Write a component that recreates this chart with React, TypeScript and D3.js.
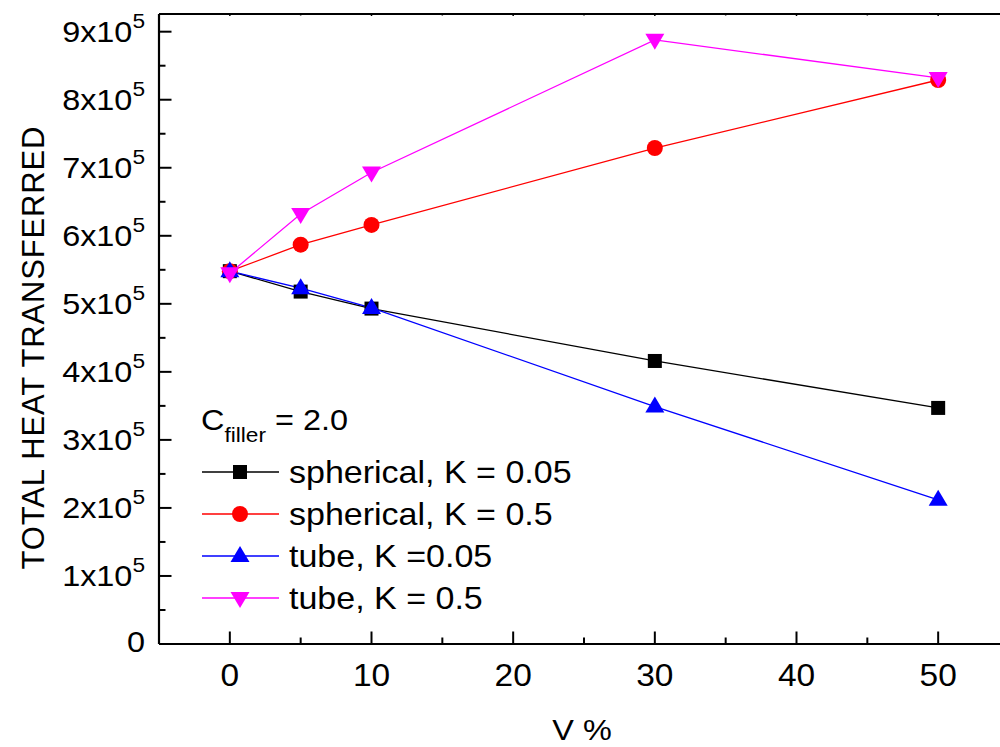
import React from "react";
import * as d3 from "d3";

const xValues = [0, 5, 10, 30, 50];
const sphericalK005 = [5.48e5, 5.18e5, 4.93e5, 4.16e5, 3.47e5];
const sphericalK05 = [5.48e5, 5.87e5, 6.16e5, 7.29e5, 8.29e5];
const tubeK005 = [5.48e5, 5.23e5, 4.94e5, 3.49e5, 2.12e5];
const tubeK05 = [5.45e5, 6.32e5, 6.93e5, 8.88e5, 8.32e5];
const seriesNames = ["spherical, K = 0.05", "spherical, K = 0.5", "tube, K =0.05", "tube, K = 0.5"];
const seriesColors = ["#000000", "#ff0000", "#0000ff", "#ff00ff"];
const seriesShapes = ["square", "circle", "triangle", "triangleDown"];
const xTicks = [0, 10, 20, 30, 40, 50];
const xMinorTicks = [-5, 5, 15, 25, 35, 45, 55];
const yTicks = [0, 1e5, 2e5, 3e5, 4e5, 5e5, 6e5, 7e5, 8e5, 9e5];
const yMinorTicks = [0.5e5, 1.5e5, 2.5e5, 3.5e5, 4.5e5, 5.5e5, 6.5e5, 7.5e5, 8.5e5];

const W = 1000;
const H = 747;
const left = 159;
const right = 1009;
const top = 14;
const bottom = 644;
const FONT = "Liberation Sans, Arial, sans-serif";
const SX = 1.08;

function Marker({ shape, x, y, color }: { shape: string; x: number; y: number; color: string }) {
  if (shape === "square") return <rect x={x - 7} y={y - 7} width={14} height={14} fill={color} />;
  if (shape === "circle") return <circle cx={x} cy={y} r={8} fill={color} />;
  if (shape === "triangle")
    return <path d={`M${x},${y - 10} L${x + 9.5},${y + 6} L${x - 9.5},${y + 6} Z`} fill={color} />;
  return <path d={`M${x},${y + 10} L${x + 9.5},${y - 6} L${x - 9.5},${y - 6} Z`} fill={color} />;
}

export default function App() {
  const x = d3.scaleLinear().domain([-5, 55]).range([left, right]);
  const y = d3.scaleLinear().domain([0, 9.26e5]).range([bottom, top]);
  const all = [sphericalK005, sphericalK05, tubeK005, tubeK05];
  const line = d3
    .line<number>()
    .x((_, i) => x(xValues[i]))
    .y((d) => y(d));

  const legendY0 = 472;
  const legendStep = 42;

  return (
    <svg width={W} height={H} style={{ position: "absolute", left: 0, top: 0 }} fontFamily={FONT}>
      <rect x={0} y={0} width={W} height={H} fill="#fff" />
      {all.map((s, si) => (
        <path key={si} d={line(s) || ""} fill="none" stroke={seriesColors[si]} strokeWidth={1.3} />
      ))}
      {all.map((s, si) => (
        <g key={"m" + si}>
          {s.map((v, i) => (
            <Marker key={i} shape={seriesShapes[si]} x={x(xValues[i])} y={y(v)} color={seriesColors[si]} />
          ))}
        </g>
      ))}
      <line x1={left} x2={right} y1={bottom} y2={bottom} stroke="#000" strokeWidth={2.2} />
      <line x1={left} x2={right} y1={top} y2={top} stroke="#000" strokeWidth={2.2} />
      <line x1={left} x2={left} y1={top} y2={bottom} stroke="#000" strokeWidth={2.2} />
      {xTicks.map((t) => (
        <g key={"xt" + t}>
          <line x1={x(t)} x2={x(t)} y1={bottom} y2={bottom - 12.5} stroke="#000" strokeWidth={2} />
          <line x1={x(t)} x2={x(t)} y1={top} y2={top + 2} stroke="#000" strokeWidth={1.5} />
          <text transform={`translate(${x(t)},686) scale(${SX},1)`} fontSize={31} textAnchor="middle">
            {t}
          </text>
        </g>
      ))}
      {xMinorTicks.map((t) => (
        <g key={"xm" + t}>
          <line x1={x(t)} x2={x(t)} y1={bottom} y2={bottom - 6.5} stroke="#000" strokeWidth={2} />
          <line x1={x(t)} x2={x(t)} y1={top} y2={top + 1.5} stroke="#000" strokeWidth={1.5} />
        </g>
      ))}
      {yTicks.map((t) => (
        <g key={"yt" + t}>
          <line x1={left} x2={left + 12.5} y1={y(t)} y2={y(t)} stroke="#000" strokeWidth={2} />
          {t === 0 ? (
            <text transform={`translate(145,${y(t) + 8}) scale(${SX},1)`} fontSize={30} textAnchor="end">
              0
            </text>
          ) : (
            <text transform={`translate(145,${y(t) + 10}) scale(${SX},1)`} fontSize={30} textAnchor="end">
              {`${Math.round(t / 1e5)}x10`}
              <tspan fontSize={21} dy={-14}>
                5
              </tspan>
            </text>
          )}
        </g>
      ))}
      {yMinorTicks.map((t) => (
        <line key={"ym" + t} x1={left} x2={left + 6.5} y1={y(t)} y2={y(t)} stroke="#000" strokeWidth={2} />
      ))}
      <text transform={`translate(582,740) scale(${SX},1)`} fontSize={30} textAnchor="middle">
        V %
      </text>
      <text transform="translate(44,348) rotate(-90)" fontSize={31} textAnchor="middle" textLength={443}>
        TOTAL HEAT TRANSFERRED
      </text>
      <text transform={`translate(201,430) scale(${SX},1)`} fontSize={30}>
        C
        <tspan fontSize={21} dy={12}>
          filler
        </tspan>
        <tspan fontSize={30} dy={-12}>
          {" = 2.0"}
        </tspan>
      </text>
      {seriesNames.map((n, i) => {
        const ly = legendY0 + i * legendStep;
        return (
          <g key={"lg" + i}>
            <line x1={202} x2={279} y1={ly} y2={ly} stroke={seriesColors[i]} strokeWidth={1.3} />
            <Marker shape={seriesShapes[i]} x={240} y={ly} color={seriesColors[i]} />
            <text transform={`translate(289,${ly + 11}) scale(${SX},1)`} fontSize={31.5}>
              {n}
            </text>
          </g>
        );
      })}
    </svg>
  );
}
